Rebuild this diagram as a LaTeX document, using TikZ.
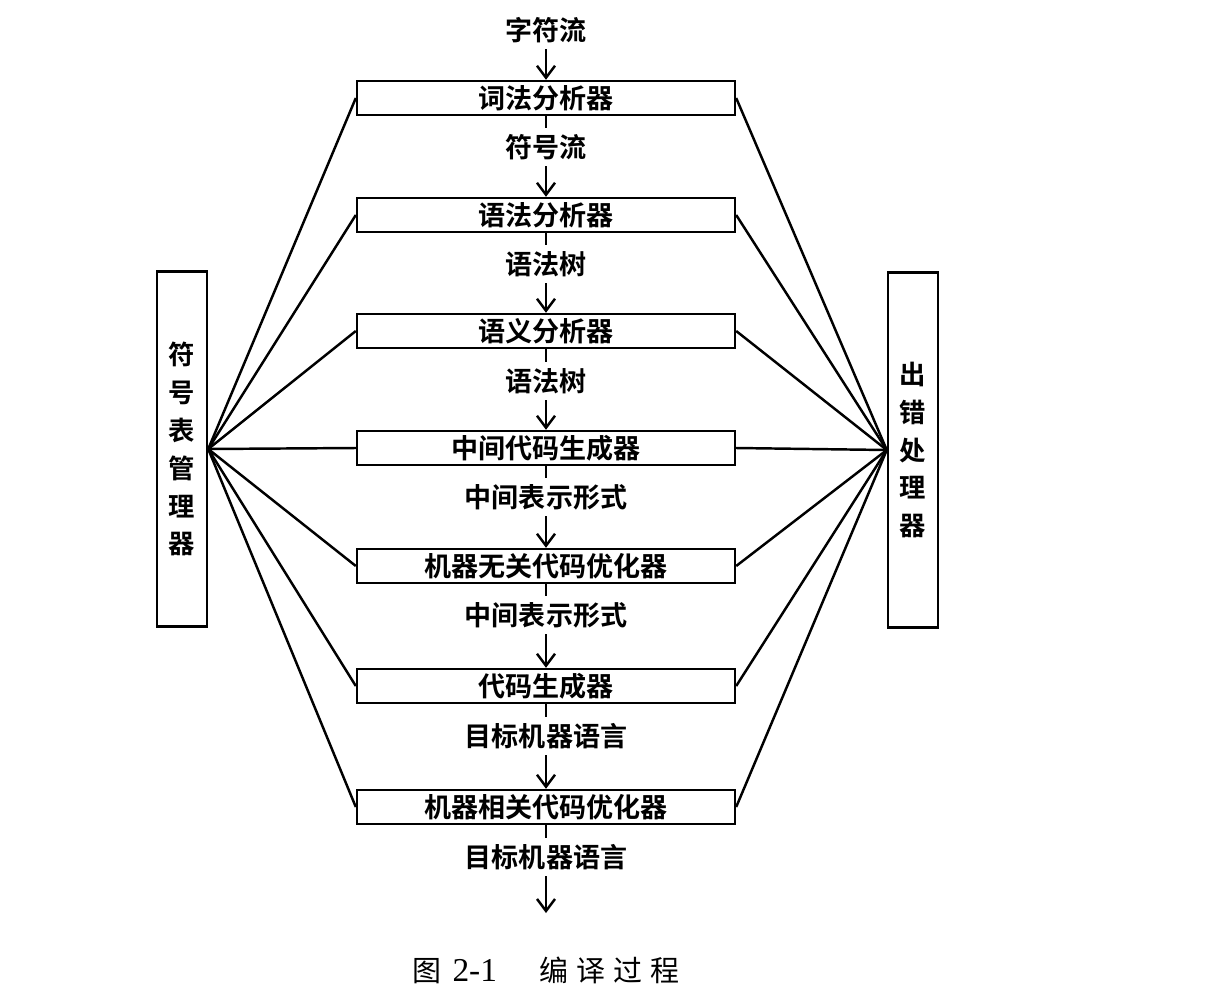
\documentclass[tikz,border=0pt]{standalone}
\usepackage{fontspec}
\setmainfont{Liberation Serif}
\newfontfamily\cjk{Noto Sans CJK SC}
\newfontfamily\cjkbold{Noto Sans CJK SC Bold}
\usepackage{tikz}
\usetikzlibrary{arrows.meta}

\begin{document}
\begin{tikzpicture}[x=0.02cm, y=-0.02cm, line width=1.4pt,
    >={Straight Barb[length=2.4mm,width=3.6mm]},
    stage/.style={draw, minimum width=7.56cm, minimum height=0.68cm, inner sep=0pt,
      font=\cjkbold\fontsize{15.4}{18}\selectfont},
    side/.style={draw, minimum width=1cm, minimum height=7.1cm, align=center,
      font=\cjkbold\fontsize{15}{21.6}\selectfont},
    flow/.style={inner sep=3pt, font=\cjkbold\fontsize{15.4}{18}\selectfont}]
  \useasboundingbox (0,0) rectangle (1208,1005);
  % the stages
  \node[stage] (lex) at (546,98) {词法分析器};
  \node[stage] (syn) at (546,215) {语法分析器};
  \node[stage] (sem) at (546,331) {语义分析器};
  \node[stage] (ir) at (546,448) {中间代码生成器};
  \node[stage] (opti) at (546,566) {机器无关代码优化器};
  \node[stage] (gen) at (546,686) {代码生成器};
  \node[stage] (optd) at (546,807) {机器相关代码优化器};
  \node[side] (symtab) at (182,449) {符\\号\\表\\管\\理\\器};
  \node[side] (err) at (913,450) {出\\错\\处\\理\\器};
  % what flows between them
  \node[flow] (f0) at (546,30) {字符流};
  \node[flow] (f1) at (546,147) {符号流};
  \node[flow] (f2) at (546,264) {语法树};
  \node[flow] (f3) at (546,381) {语法树};
  \node[flow] (f4) at (546,497) {中间表示形式};
  \node[flow] (f5) at (546,615) {中间表示形式};
  \node[flow] (f6) at (546,736) {目标机器语言};
  \node[flow] (f7) at (546,857) {目标机器语言};
  \coordinate (out) at (546,913);
  \draw[->] (f0) -- (lex);
  \draw (lex) -- (f1); \draw[->] (f1) -- (syn);
  \draw (syn) -- (f2); \draw[->] (f2) -- (sem);
  \draw (sem) -- (f3); \draw[->] (f3) -- (ir);
  \draw (ir) -- (f4); \draw[->] (f4) -- (opti);
  \draw (opti) -- (f5); \draw[->] (f5) -- (gen);
  \draw (gen) -- (f6); \draw[->] (f6) -- (optd);
  \draw (optd) -- (f7); \draw[->] (f7) -- (out);
  % fans to the two side boxes
  \foreach \s in {lex,syn,sem,ir,opti,gen,optd}
    \draw (symtab.east) -- (\s.west) (err.west) -- (\s.east);
  \node (cap) at (546,970) {{\cjk\fontsize{16.5}{18}\selectfont 图}\hspace{0.22cm}{\fontsize{19}{20}\selectfont 2-1}\hspace{0.85cm}{\cjk\fontsize{16.5}{18}\selectfont 编\hspace{0.16cm}译\hspace{0.16cm}过\hspace{0.16cm}程}};
\end{tikzpicture}
\end{document}
